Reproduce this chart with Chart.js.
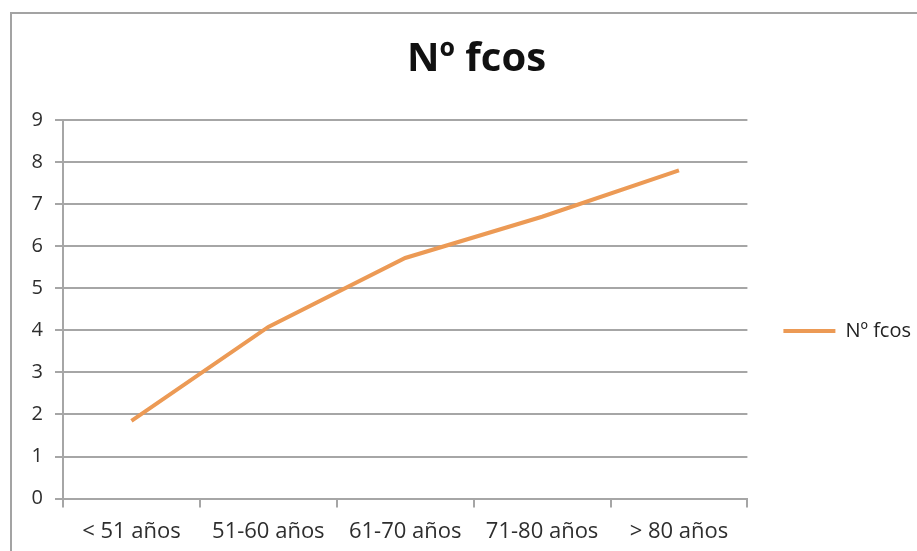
<!DOCTYPE html>
<html>
<head>
<meta charset="utf-8">
<script src="https://cdn.jsdelivr.net/npm/chart.js@4"></script>
<style>
    html, body {
        margin: 0;
        padding: 0;
        background: #ffffff;
        overflow: hidden;
        width: 917px;
        height: 551px;
    }

    #frame {
        position: absolute;
        left: 10px;
        top: 12px;
        border: 2px solid #a3a3a3;
        width: 931px;
        height: 560px;
    }

    canvas {
        display: block;
    }
</style>
</head>
<body>
<div id="frame">
    <canvas id="myChart" width="931" height="550"></canvas>
</div>

<script>
    // values
    const categories = ['< 51 años', '51-60 años', '61-70 años', '71-80 años', '> 80 años'];
    const seriesName = 'Nº fcos';
    const seriesValues = [1.85, 4.08, 5.72, 6.7, 7.8];
    const yTicks = [0, 1, 2, 3, 4, 5, 6, 7, 8, 9];

    const gridColor = '#a6a6a6';
    const lineColor = '#ec9a55';
    const textColor = '#2e2e2e';
    const fontFamily = "'Open Sans', 'DejaVu Sans', sans-serif";

    const data = {
        labels: categories,
        datasets: [{
            label: seriesName,
            data: seriesValues,
            borderColor: lineColor,
            backgroundColor: lineColor,
            borderWidth: 4,
            pointRadius: 0,
            pointHoverRadius: 0,
            pointStyle: 'line',
            tension: 0
        }]
    };

    const config = {
        type: 'line',
        data: data,
        options: {
            responsive: false,
            animation: false,
            devicePixelRatio: 1,
            layout: {
                padding: { left: 20, right: 22, top: 0, bottom: 8 }
            },
            plugins: {
                title: {
                    display: true,
                    text: seriesName,
                    color: '#111111',
                    font: { family: fontFamily, size: 40, weight: 'bold' },
                    padding: { top: 22, bottom: 36 }
                },
                legend: {
                    position: 'right',
                    title: {
                        display: true,
                        text: ' ',
                        padding: 34,
                        font: { family: fontFamily, size: 20 }
                    },
                    labels: {
                        usePointStyle: true,
                        pointStyleWidth: 52,
                        boxHeight: 4,
                        padding: 36,
                        color: '#222222',
                        font: { family: fontFamily, size: 20 }
                    }
                },
                tooltip: { enabled: false }
            },
            scales: {
                x: {
                    offset: true,
                    grid: {
                        offset: true,
                        drawOnChartArea: false,
                        drawTicks: true,
                        tickLength: 9,
                        color: gridColor,
                        lineWidth: 2
                    },
                    border: { display: true, color: gridColor, width: 2 },
                    ticks: {
                        color: textColor,
                        padding: 11,
                        maxRotation: 0,
                        font: { family: fontFamily, size: 22 }
                    }
                },
                y: {
                    min: yTicks[0],
                    max: yTicks[yTicks.length - 1],
                    afterBuildTicks: function (scale) {
                        scale.ticks = yTicks.map(function (v) { return { value: v }; });
                    },
                    afterFit: function (scale) {
                        // labels overflow into the left padding, as in the original
                        scale.width = 31;
                    },
                    grid: {
                        drawTicks: true,
                        tickLength: 8,
                        color: gridColor,
                        lineWidth: 2
                    },
                    border: { display: true, color: gridColor, width: 2 },
                    ticks: {
                        color: textColor,
                        padding: 12,
                        font: { family: fontFamily, size: 20 }
                    }
                }
            }
        }
    };

    const myChart = new Chart(
        document.getElementById('myChart'),
        config
    );
</script>
</body>
</html>
